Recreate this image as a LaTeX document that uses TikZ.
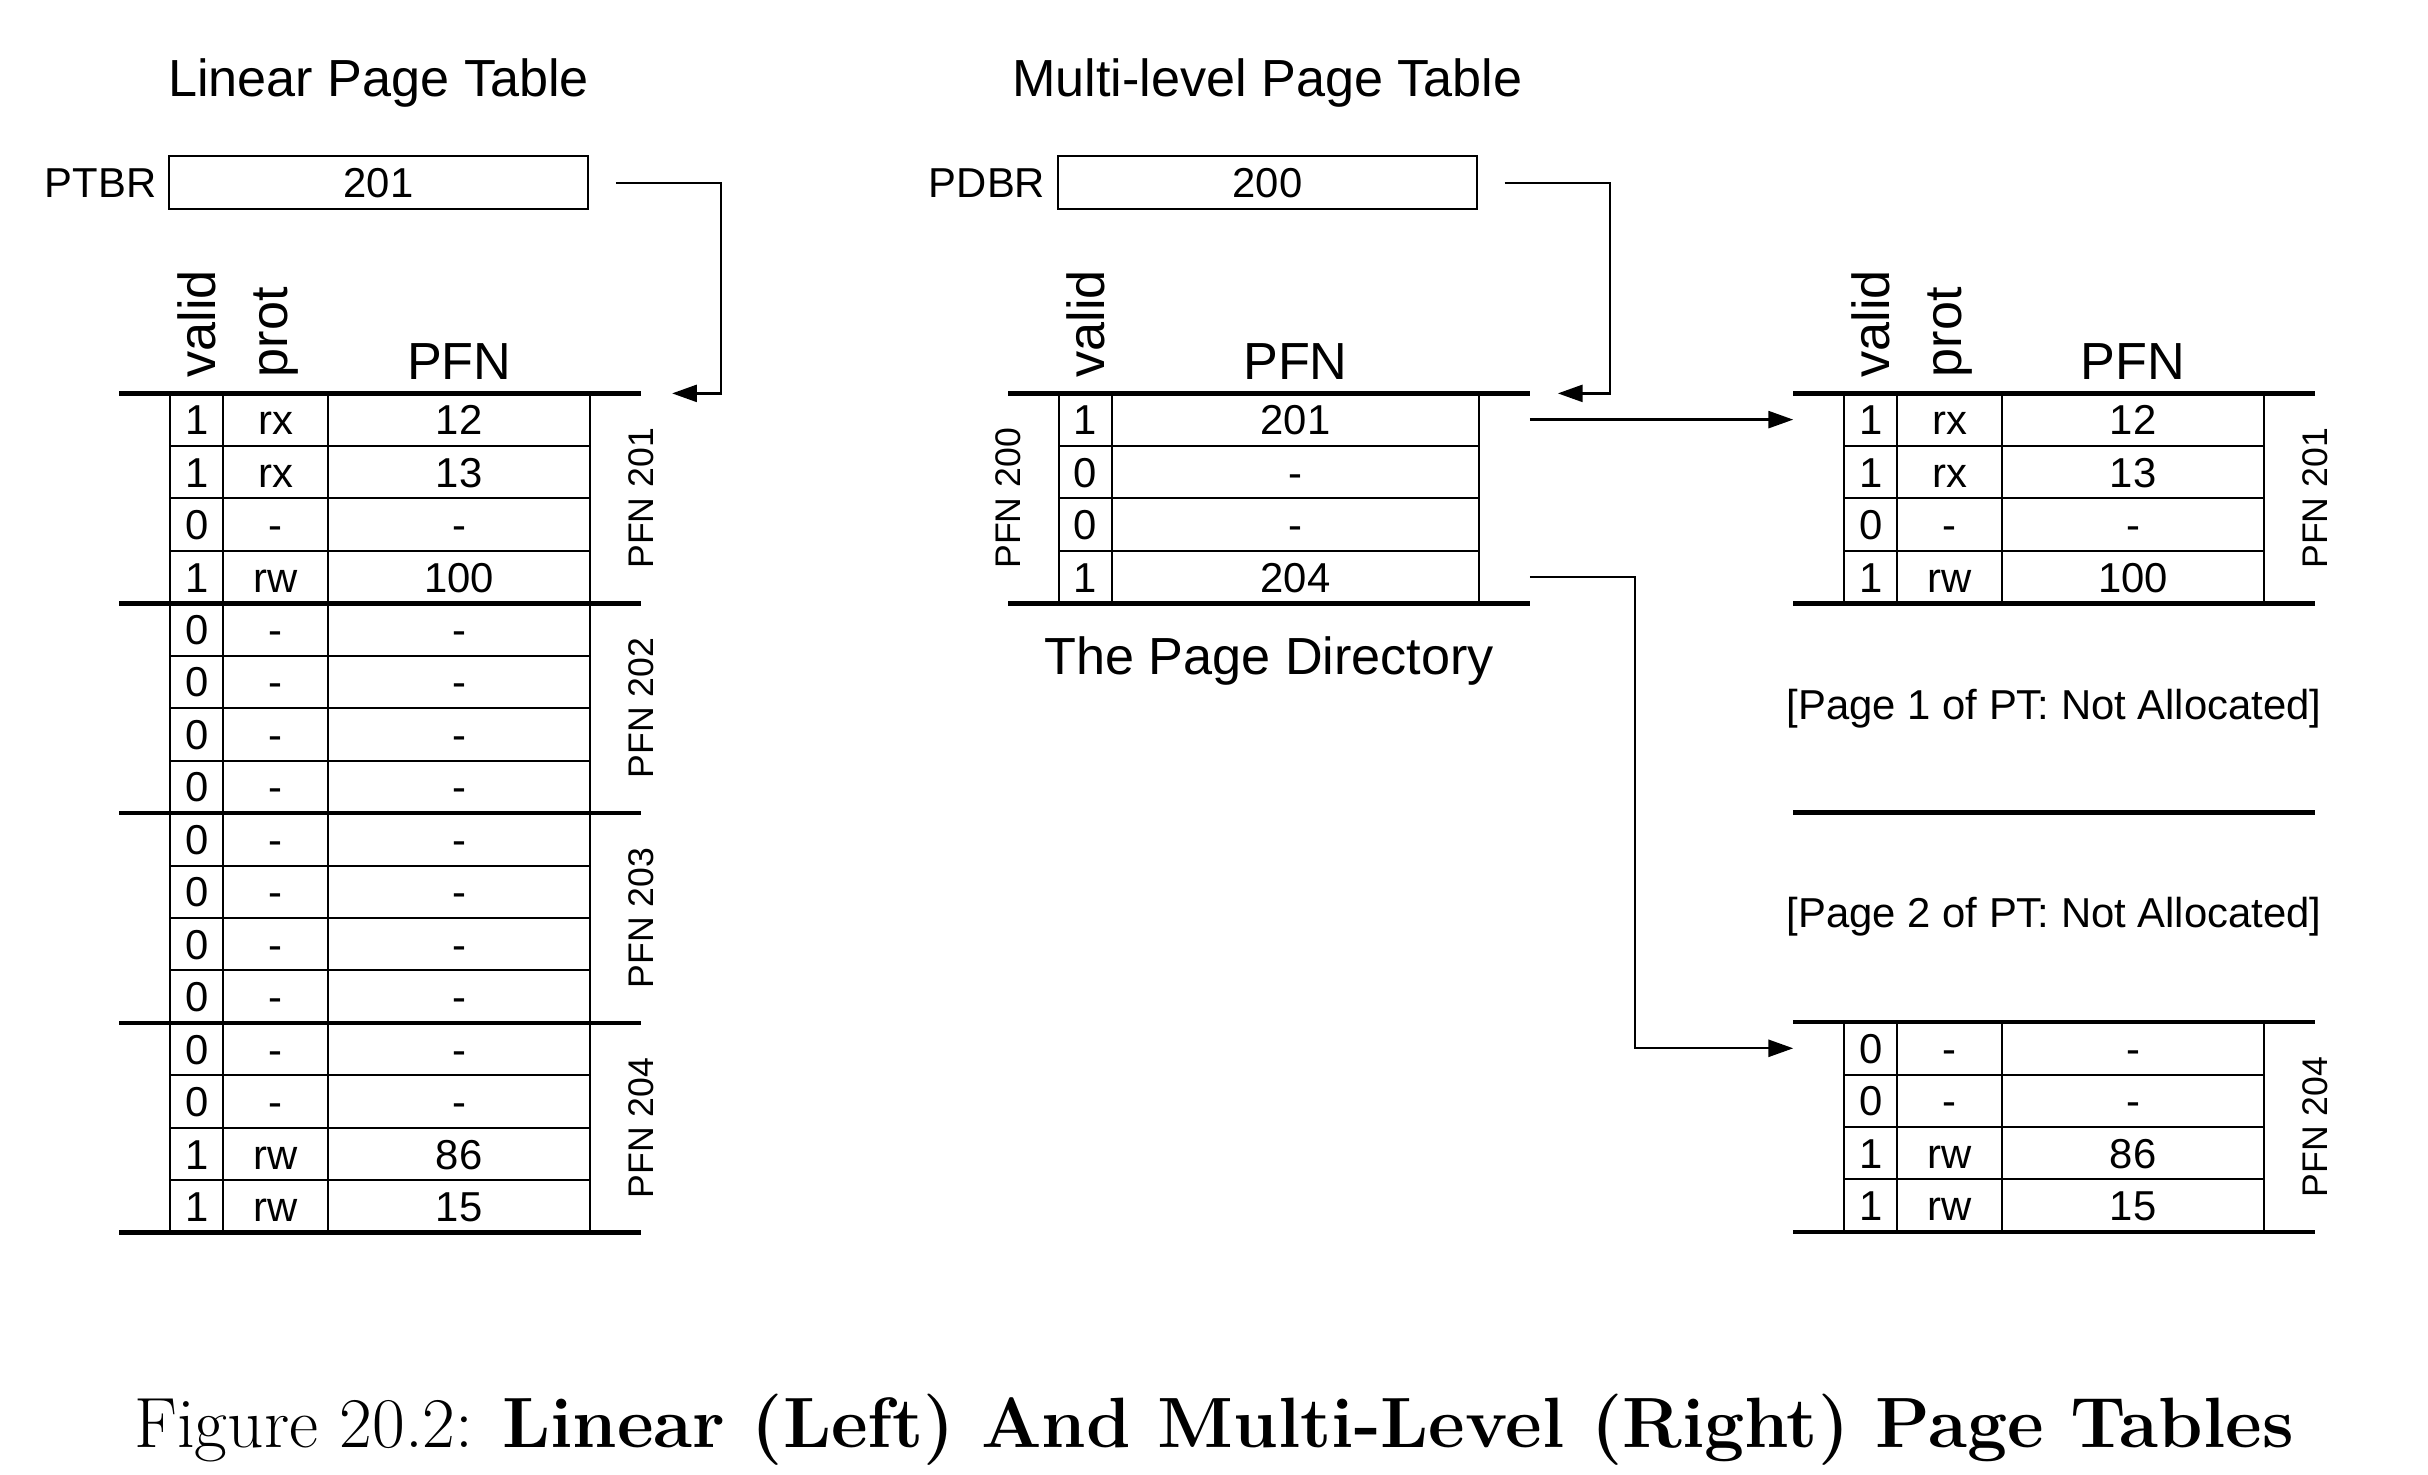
\documentclass[tikz,border=0pt]{standalone}
\usepackage{fontspec}
\setsansfont{Liberation Sans}
\usetikzlibrary{matrix,positioning,calc,arrows.meta}

\tikzset{
cell/.style={draw,line width=0.65pt,inner sep=0pt,outer sep=0pt,minimum height=16.94pt,text height=9.7pt,text depth=0pt,font=\sffamily\fontsize{13.5pt}{15pt}\selectfont},
ptable/.style={matrix of nodes,inner sep=0pt,row sep=-0.65pt,column sep=-0.65pt,anchor=north west,nodes={cell},
column 1/.style={nodes={minimum width=17pt}},
column 2/.style={nodes={minimum width=34pt}},
column 3/.style={nodes={minimum width=84.5pt}}},
rule/.style={line width=1.5pt},
reg/.style={draw,line width=0.65pt,minimum width=135.5pt,minimum height=17pt,inner sep=0pt,font=\sffamily\fontsize{13.5pt}{15pt}\selectfont},
reglab/.style={inner sep=0pt,font=\sffamily\fontsize{13.5pt}{15pt}\selectfont},
title/.style={inner sep=0pt,font=\sffamily\fontsize{16.85pt}{20pt}\selectfont},
hdr/.style={inner sep=0pt,font=\sffamily\fontsize{16.85pt}{20pt}\selectfont},
pfnlab/.style={inner sep=0pt,rotate=90,font=\sffamily\fontsize{11.5pt}{13pt}\selectfont},
note/.style={inner sep=0pt,font=\sffamily\fontsize{13.5pt}{15pt}\selectfont},
link/.style={line width=0.75pt,-{Triangle[length=8pt,width=5.5pt]}}
}

\begin{document}
\begin{tikzpicture}[x=0.5pt,y=-0.5pt]
\useasboundingbox (0,0) rectangle (1568,952);

\node[reg] (ptbr) at (244.5,118) {201};
\node[reglab,left=3.5pt of ptbr] (ptbrlab) {PTBR};
\node[title,above=19pt of ptbr,anchor=base] (lintitle) {Linear Page Table};

\matrix (lin) [ptable] at (109,253)
{
1 & rx & 12 \\
1 & rx & 13 \\
0 & - & - \\
1 & rw & 100 \\
0 & - & - \\
0 & - & - \\
0 & - & - \\
0 & - & - \\
0 & - & - \\
0 & - & - \\
0 & - & - \\
0 & - & - \\
0 & - & - \\
0 & - & - \\
1 & rw & 86 \\
1 & rw & 15 \\
};
\node[hdr,rotate=90,anchor=west] (linvalid) at ([yshift=5pt]lin-1-1.north) {valid};
\node[hdr,rotate=90,anchor=west] (linprot) at ([yshift=5pt]lin-1-2.north) {prot};
\node[hdr,anchor=base] (linpfn) at ([yshift=4.5pt]lin-1-3.north) {PFN};
\foreach \r in {1,5,9,13}
  \draw[rule] ([xshift=-16.5pt]lin-\r-1.north west) -- ([xshift=16.5pt]lin-\r-3.north east);
\draw[rule] ([xshift=-16.5pt]lin-16-1.south west) -- ([xshift=16.5pt]lin-16-3.south east);
\foreach \r/\s/\n in {1/4/201,5/8/202,9/12/203,13/16/204}
  \node[pfnlab] (linpfn\n) at ([xshift=16.5pt]$(lin-\r-3.north east)!.5!(lin-\s-3.south east)$) {PFN \n};
\draw[link] ([xshift=8.5pt]ptbr.east) -- ++(34pt,0) |- ([xshift=26.5pt]lin-1-3.north east);

\node[reg] (pdbr) at (818.5,118) {200};
\node[reglab,left=3.5pt of pdbr] (pdbrlab) {PDBR};
\node[title,above=19pt of pdbr,anchor=base] (mltitle) {Multi-level Page Table};

\matrix (pd) [ptable,column 2/.style={nodes={minimum width=118.5pt}}] at (683,253)
{
1 & 201 \\
0 & - \\
0 & - \\
1 & 204 \\
};
\node[hdr,rotate=90,anchor=west] (pdvalid) at ([yshift=5pt]pd-1-1.north) {valid};
\node[hdr,anchor=base] (pdpfn) at ([yshift=4.5pt]pd-1-2.north) {PFN};
\draw[rule] ([xshift=-16.5pt]pd-1-1.north west) -- ([xshift=16.5pt]pd-1-2.north east);
\draw[rule] ([xshift=-16.5pt]pd-4-1.south west) -- ([xshift=16.5pt]pd-4-2.south east);
\node[pfnlab] (pdlab) at ([xshift=-16.5pt]$(pd-1-1.north west)!.5!(pd-4-1.south west)$) {PFN 200};
\node[title,below=22.5pt of pd.south,anchor=base] (pdtitle) {The Page Directory};
\draw[link] ([xshift=8.5pt]pdbr.east) -- ++(34pt,0) |- ([xshift=25.5pt]pd-1-2.north east);

\matrix (pg201) [ptable] at (1190,253)
{
1 & rx & 12 \\
1 & rx & 13 \\
0 & - & - \\
1 & rw & 100 \\
};
\matrix (pg204) [ptable] at (1190,659)
{
0 & - & - \\
0 & - & - \\
1 & rw & 86 \\
1 & rw & 15 \\
};
\node[hdr,rotate=90,anchor=west] (pgvalid) at ([yshift=5pt]pg201-1-1.north) {valid};
\node[hdr,rotate=90,anchor=west] (pgprot) at ([yshift=5pt]pg201-1-2.north) {prot};
\node[hdr,anchor=base] (pgpfn) at ([yshift=4.5pt]pg201-1-3.north) {PFN};
\foreach \m in {pg201,pg204} {
  \draw[rule] ([xshift=-16.5pt]\m-1-1.north west) -- ([xshift=16.5pt]\m-1-3.north east);
  \draw[rule] ([xshift=-16.5pt]\m-4-1.south west) -- ([xshift=16.5pt]\m-4-3.south east);
}
\draw[rule] ([xshift=-16.5pt]$(pg201-4-1.south west)!.5!(pg204-1-1.north west)$) -- ([xshift=16.5pt]$(pg201-4-3.south east)!.5!(pg204-1-3.north east)$);
\node[pfnlab] (pglab201) at ([xshift=16.5pt]$(pg201-1-3.north east)!.5!(pg201-4-3.south east)$) {PFN 201};
\node[pfnlab] (pglab204) at ([xshift=16.5pt]$(pg204-1-3.north east)!.5!(pg204-4-3.south east)$) {PFN 204};
\node[note] (na1) at ($(pg201.south)!.25!(pg204.north)$) {[Page 1 of PT: Not Allocated]};
\node[note] (na2) at ($(pg201.south)!.75!(pg204.north)$) {[Page 2 of PT: Not Allocated]};

\draw[link] ([xshift=16.5pt]pd-1-2.east) -- ([xshift=-16.5pt]pg201-1-1.west);
\draw[link] ([xshift=16.5pt]pd-4-2.east) -- ++(34pt,0) |- ([xshift=-16.5pt]pg204-1-1.west);

\node[anchor=base,inner sep=0pt,font=\rmfamily\fontsize{23pt}{27pt}\selectfont] (cap) at (784,935) {Figure 20.2: \textbf{Linear (Left) And Multi-Level (Right) Page Tables}};
\end{tikzpicture}
\end{document}
